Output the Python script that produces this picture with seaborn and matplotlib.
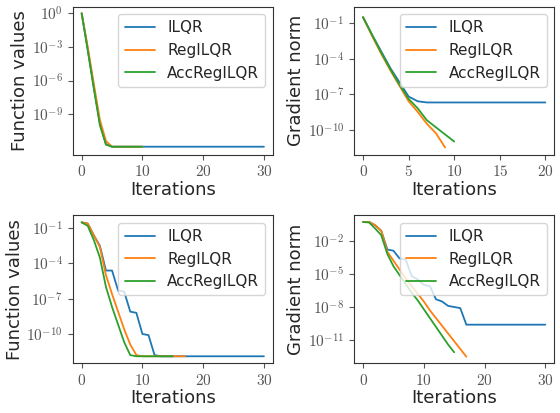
import numpy as np
import pandas as pd
import seaborn as sns
import matplotlib
matplotlib.use("Agg")
import matplotlib.pyplot as plt

sns.set_style("ticks")
plt.rcParams['mathtext.fontset'] = 'cm'
plt.rcParams['font.family'] = ['DejaVu Sans']

labels = ["ILQR", "RegILQR", "AccRegILQR"]

# log10 values
tl_ilqr = [0, -3.2, -6.6, -9.8, -11.7, -11.9] + [-11.9]*25
tl_reg = [0, -3.0, -6.3, -9.5, -11.4, -11.9, -11.9, -11.9, -11.9, -11.9, -11.9]
tl_acc = [0, -3.3, -6.7, -10.0, -11.7, -11.9, -11.9, -11.9, -11.9, -11.9, -11.9]

tr_ilqr = [-0.5, -2.0, -3.4, -4.8, -6.0, -7.2, -7.6] + [-7.7]*14
tr_reg = [-0.5, -2.1, -3.6, -5.0, -6.3, -7.6, -8.5, -9.5, -10.3, -11.5]
tr_acc = [-0.5, -2.0, -3.5, -4.9, -6.2, -7.4, -8.2, -9.2, -9.8, -10.4, -11.0]

bl_ilqr = [-0.5, -0.6, -1.6, -2.5, -4.6, -4.6, -6.3, -6.4, -8.1, -8.2, -10.0, -10.1,
           -11.8, -11.9] + [-11.9]*17
bl_reg = [-0.5, -0.6, -1.6, -2.6, -5.0, -6.6, -8.1, -9.6, -10.9, -11.8] + [-11.9]*8
bl_acc = [-0.5, -0.8, -2.0, -3.5, -6.0, -7.7, -9.2, -10.7, -11.8] + [-11.9]*7

br_ilqr = [-0.3, -0.3, -0.6, -1.1, -2.8, -2.9, -3.6, -3.7, -5.2, -5.5, -6.0, -6.1,
           -7.3, -7.5, -7.9, -8.0, -8.1, -9.6] + [-9.6]*13
br_reg = [-0.3, -0.3, -0.6, -1.1, -3.0, -3.8, -4.6, -5.4, -6.1, -6.8, -7.5, -8.3,
          -9.0, -9.7, -10.4, -11.1, -11.8, -12.5]
br_acc = [-0.3, -0.35, -0.9, -1.5, -3.2, -4.3, -5.1, -5.9, -6.7, -7.4, -8.2, -9.0,
          -9.8, -10.6, -11.4, -12.1]

panels = [
    ([tl_ilqr, tl_reg, tl_acc], "Function values", [0, -3, -6, -9], (-12.6, 0.6), [0, 10, 20, 30]),
    ([tr_ilqr, tr_reg, tr_acc], "Gradient norm", [-1, -4, -7, -10], (-12.1, 0.4), [0, 5, 10, 15, 20]),
    ([bl_ilqr, bl_reg, bl_acc], "Function values", [-1, -4, -7, -10], (-12.5, 0.1), [0, 10, 20, 30]),
    ([br_ilqr, br_reg, br_acc], "Gradient norm", [-2, -5, -8, -11], (-13.1, 0.3), [0, 10, 20, 30]),
]
colors = sns.color_palette("tab10")[:3]

fig, axes = plt.subplots(2, 2, figsize=(5.6, 4.13), dpi=100)
for ax, (series, ylab, yt, ylim, xt) in zip(axes.flat, panels):
    for s, lab, c in zip(series, labels, colors):
        df = pd.DataFrame({"x": np.arange(len(s)), "y": 10.0 ** np.array(s)})
        sns.lineplot(data=df, x="x", y="y", ax=ax, label=lab, color=c, lw=1.3)
    ax.set_yscale("log")
    ax.set_ylim(10.0 ** ylim[0], 10.0 ** ylim[1])
    ax.set_yticks([10.0 ** v for v in yt])
    ax.set_yticklabels([r"$10^{%d}$" % v for v in yt])
    ax.minorticks_off()
    ax.set_xticks(xt)
    ax.set_xticklabels([r"$%d$" % v for v in xt])
    ax.tick_params(labelsize=11, colors="#555555", labelcolor="#555555")
    ax.set_xlabel("Iterations", fontsize=13, labelpad=1)
    ax.set_ylabel(ylab, fontsize=13, labelpad=2)
    for sp in ax.spines.values():
        sp.set_color("#333333")
    ax.legend(loc="upper right", fontsize=11)
fig.tight_layout(h_pad=1.2, w_pad=1.0, pad=0.4)
fig.savefig("out.png", dpi=100)
